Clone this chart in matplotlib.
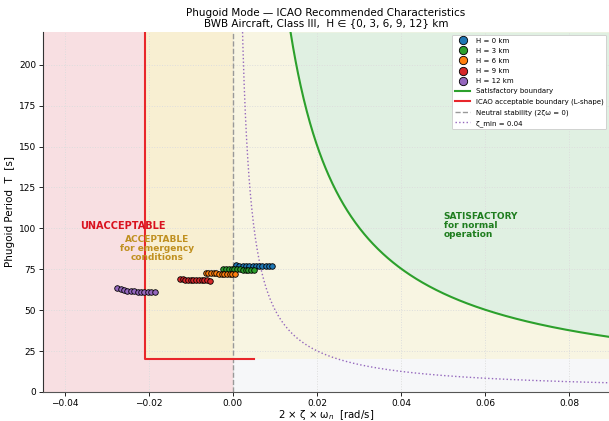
import numpy as np
import matplotlib
matplotlib.use("Agg")
import matplotlib.pyplot as plt

# ---------------- data ----------------
altitudes_km = [0, 3, 6, 9, 12]
series_colors = ["#1f77b4", "#2ca02c", "#ff7f0e", "#d62728", "#9467bd"]

x_H0 = [0.0007, 0.0015, 0.0023, 0.0031, 0.0039, 0.0047, 0.0055, 0.0062, 0.0070, 0.0078, 0.0086, 0.0094]
T_H0 = [77.3, 77.2, 77.2, 77.1, 77.1, 77.0, 77.0, 76.9, 76.9, 76.9, 76.8, 76.8]
x_H3 = [-0.0023, -0.0016, -0.0010, -0.0003, 0.0003, 0.0010, 0.0016, 0.0023, 0.0030, 0.0036, 0.0043, 0.0049]
T_H3 = [75.1, 75.1, 75.0, 75.0, 74.9, 74.9, 74.9, 74.8, 74.8, 74.8, 74.7, 74.7]
x_H6 = [-0.0065, -0.0059, -0.0052, -0.0046, -0.0040, -0.0034, -0.0027, -0.0021, -0.0015, -0.0008, -0.0002, 0.0004]
T_H6 = [72.6, 72.5, 72.5, 72.4, 72.4, 72.3, 72.3, 72.3, 72.2, 72.2, 72.1, 72.1]
x_H9 = [-0.0127, -0.0120, -0.0114, -0.0107, -0.0100, -0.0094, -0.0087, -0.0081, -0.0074, -0.0068, -0.0061, -0.0054]
T_H9 = [68.9, 68.8, 68.7, 68.6, 68.5, 68.4, 68.4, 68.3, 68.3, 68.2, 68.2, 68.1]
x_H12 = [-0.0275, -0.0267, -0.0259, -0.0251, -0.0243, -0.0235, -0.0227, -0.0219, -0.0211, -0.0203, -0.0195, -0.0186]
T_H12 = [63.4, 62.8, 62.3, 62.0, 61.7, 61.5, 61.3, 61.2, 61.1, 61.0, 60.9, 60.9]

xs = [x_H0, x_H3, x_H6, x_H9, x_H12]
Ts = [T_H0, T_H3, T_H6, T_H9, T_H12]

zeta_sat = 0.24        # satisfactory boundary damping
zeta_min = 0.04        # minimum damping line
x_icao = -0.021        # ICAO acceptable boundary (vertical leg)
T_icao = 20.0          # ICAO acceptable boundary (horizontal leg)
x_icao_end = 0.005

xlim = (-0.0452, 0.0895)
ylim = (0, 220)

# ---------------- figure ----------------
fig = plt.figure(figsize=(6.09, 4.21), dpi=100)
ax = fig.add_axes([0.0706, 0.069, 0.9294, 0.855])

# regions
ax.axvspan(xlim[0], x_icao, color="#f8dfe2", zorder=0, lw=0)
ax.fill_between([x_icao, 0], 0, T_icao, color="#f8dfe2", zorder=0, lw=0)
ax.fill_between([x_icao, 0], T_icao, ylim[1], color="#f8efd2", zorder=0, lw=0)
ax.fill_between([0, xlim[1]], T_icao, ylim[1], color="#f8f5e2", zorder=0, lw=0)
ax.fill_between([0, xlim[1]], 0, T_icao, color="#f6f7f9", zorder=0, lw=0)

xc = np.linspace(0.0005, xlim[1], 600)
T_sat = 4 * np.pi * zeta_sat / xc
ax.fill_between(xc, np.clip(T_sat, T_icao, ylim[1]), ylim[1], where=T_sat < ylim[1],
                color="#e0f0e2", zorder=0.5, lw=0)

ax.grid(True, color="#dddddd", linestyle=":", linewidth=0.7, zorder=1)
ax.set_axisbelow(True)

# boundaries
ax.plot(xc, T_sat, color="#2ca02c", lw=1.5, zorder=3, label="Satisfactory boundary")
ax.plot([x_icao, x_icao, x_icao_end], [ylim[1], T_icao, T_icao], color="#e8262b", lw=1.5,
        zorder=3, label="ICAO acceptable boundary (L-shape)")
ax.axvline(0, color="#999999", ls="--", lw=1.0, zorder=2, label="Neutral stability (2ζω = 0)")
xm = np.linspace(0.0015, xlim[1], 600)
ax.plot(xm, 4 * np.pi * zeta_min / xm, color="#9467bd", ls=":", lw=1.0, zorder=2,
        label="ζ_min = 0.04")

# data
for H, c, x, T in zip(altitudes_km, series_colors, xs, Ts):
    ax.plot(x, T, ls="none", marker="o", ms=4.0, mfc=c, mec="black", mew=0.6, zorder=5,
            label=f"H = {H} km")

# annotations
ax.text(-0.0262, 101.5, "UNACCEPTABLE", color="#d9121f", fontsize=7, fontweight="bold",
        ha="center", va="center", zorder=6)
ax.text(-0.018, 87.5, "ACCEPTABLE\nfor emergency\nconditions", color="#c09020", fontsize=6.5,
        fontweight="bold", ha="center", va="center", linespacing=1.0, zorder=6)
ax.text(0.0502, 102, "SATISFACTORY\nfor normal\noperation", color="#1e7d1e", fontsize=6.5,
        fontweight="bold", ha="left", va="center", linespacing=1.0, zorder=6)

ax.set_xlim(*xlim)
ax.set_ylim(*ylim)
ax.set_xticks([-0.04, -0.02, 0.0, 0.02, 0.04, 0.06, 0.08])
ax.set_yticks([0, 25, 50, 75, 100, 125, 150, 175, 200])
ax.tick_params(labelsize=6.5, length=3, width=0.6, pad=2)
for s in ["top", "right"]:
    ax.spines[s].set_visible(False)
ax.spines["left"].set_color("#333333")
ax.spines["bottom"].set_color("#555555")

ax.set_xlabel("2 × ζ × ω$_n$  [rad/s]", fontsize=7.3, labelpad=1)
ax.xaxis.set_label_coords(0.5, -0.045)
ax.set_ylabel("Phugoid Period  T  [s]", fontsize=7.5, labelpad=3)
ax.set_title("Phugoid Mode — ICAO Recommended Characteristics\n"
             "BWB Aircraft, Class III,  H ∈ {0, 3, 6, 9, 12} km", fontsize=7.5, pad=4,
             linespacing=1.1)

handles, labels = ax.get_legend_handles_labels()
order = [4, 5, 6, 7, 8, 0, 1, 2, 3]
leg = ax.legend([handles[i] for i in order], [labels[i] for i in order], loc="upper right",
                fontsize=5, framealpha=1.0, edgecolor="#cccccc", fancybox=True,
                borderaxespad=0.4, handlelength=2.2, labelspacing=0.6, markerscale=1.5)
leg.get_frame().set_linewidth(0.6)

fig.savefig("out.png", dpi=100)
